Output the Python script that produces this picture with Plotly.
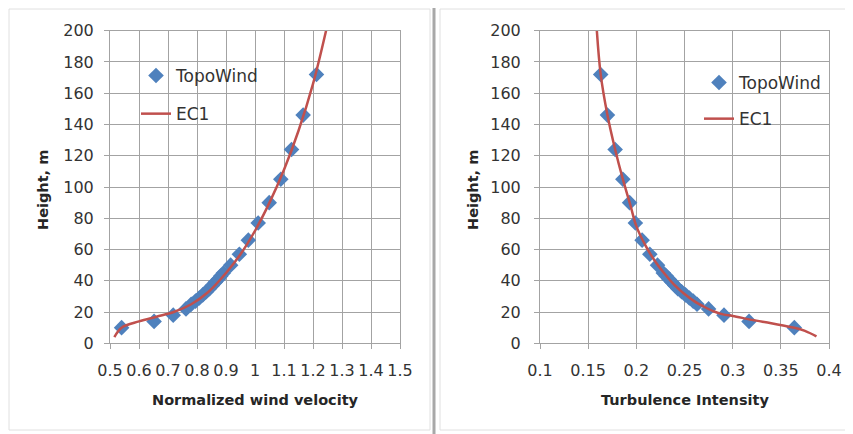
import plotly.graph_objects as go

# ---- data ----
topo_height = [10, 14, 18, 22, 25, 27, 29, 31, 33, 35, 37, 39, 41, 43, 45, 50, 57, 66, 77, 90, 105, 124, 146, 172]
topo_velocity = [0.540, 0.652, 0.718, 0.762, 0.780, 0.795, 0.808, 0.820, 0.832, 0.843, 0.853, 0.863, 0.873, 0.882, 0.891,
                 0.916, 0.946, 0.977, 1.011, 1.049, 1.089, 1.126, 1.166, 1.212]
topo_ti = [0.364, 0.317, 0.291, 0.275, 0.263, 0.259, 0.255, 0.251, 0.247, 0.243, 0.240, 0.237, 0.234, 0.231, 0.228,
           0.222, 0.214, 0.206, 0.199, 0.193, 0.186, 0.178, 0.170, 0.163]

ec1_v_height = [4, 10, 14, 17, 20, 25, 33, 45, 57, 72, 90, 111, 136, 166, 200]
ec1_velocity = [0.515, 0.540, 0.600, 0.660, 0.720, 0.780, 0.840, 0.900, 0.950, 1.000, 1.050, 1.100, 1.150, 1.200, 1.245]

ec1_ti_height = [200, 172, 146, 124, 105, 88, 75, 62, 52, 44, 37, 31.5, 27, 23.5, 20.5, 18.5, 17.5, 15, 12.8, 10, 8, 4.5]
ec1_ti = [0.159, 0.163, 0.170, 0.178, 0.186, 0.194, 0.200, 0.210, 0.220, 0.230, 0.240, 0.250, 0.260, 0.270, 0.280,
          0.290, 0.300, 0.320, 0.340, 0.364, 0.375, 0.387]

vel_ticks = [0.5, 0.6, 0.7, 0.8, 0.9, 1.0, 1.1, 1.2, 1.3, 1.4, 1.5]
vel_ticktext = ["0.5", "0.6", "0.7", "0.8", "0.9", "1", "1.1", "1.2", "1.3", "1.4", "1.5"]
ti_ticks = [0.1, 0.15, 0.2, 0.25, 0.3, 0.35, 0.4]
ti_ticktext = ["0.1", "0.15", "0.2", "0.25", "0.3", "0.35", "0.4"]
h_ticks = [0, 20, 40, 60, 80, 100, 120, 140, 160, 180, 200]

BLUE = "#4f81bd"
RED = "#c0504d"
GRID = "#a3a3a3"
TXT = "#333333"
FONT = "DejaVu Sans"

# page has an 8px body margin: the figure occupies (8..853, 8..434)
OFF = 8
W, H = 853 - OFF, 434 - OFF

fig = go.Figure()

fig.add_trace(go.Scatter(x=topo_velocity, y=topo_height, mode="markers", name="TopoWind",
                         marker=dict(symbol="diamond", size=12, color=BLUE),
                         xaxis="x", yaxis="y", legend="legend", legendgroup="a"))
fig.add_trace(go.Scatter(x=ec1_velocity, y=ec1_v_height, mode="lines", name="EC1",
                         line=dict(color=RED, width=2.5, shape="spline"),
                         xaxis="x", yaxis="y", legend="legend", legendgroup="b"))
fig.add_trace(go.Scatter(x=topo_ti, y=topo_height, mode="markers", name="TopoWind",
                         marker=dict(symbol="diamond", size=12, color=BLUE),
                         xaxis="x2", yaxis="y2", legend="legend2", legendgroup="c"))
fig.add_trace(go.Scatter(x=ec1_ti, y=ec1_ti_height, mode="lines", name="EC1",
                         line=dict(color=RED, width=2.5, shape="spline"),
                         xaxis="x2", yaxis="y2", legend="legend2", legendgroup="d"))


def px_x(p):
    return (p - OFF) / W


def px_y(p):
    return 1 - (p - OFF) / H


ydom = [px_y(343.3), px_y(30.7)]

axis_common = dict(showgrid=True, gridcolor=GRID, gridwidth=1, zeroline=False,
                   showline=True, linecolor=GRID, linewidth=1, mirror=True,
                   ticks="outside", ticklen=5, tickcolor=GRID, automargin=False,
                   tickfont=dict(family=FONT, size=16, color=TXT))

fig.update_layout(
    width=W, height=H,
    margin=dict(l=0, r=0, t=0, b=0, pad=0, autoexpand=False),
    paper_bgcolor="white", plot_bgcolor="white",
    showlegend=True,
    xaxis=dict(domain=[px_x(110), px_x(400)], range=[0.5, 1.5], tickvals=vel_ticks, ticktext=vel_ticktext,
               anchor="y", ticklabelstandoff=7, **axis_common),
    yaxis=dict(domain=ydom, range=[0, 200], tickvals=h_ticks, anchor="x", ticklabelstandoff=7, **axis_common),
    xaxis2=dict(domain=[px_x(540), px_x(829)], range=[0.1, 0.4], tickvals=ti_ticks, ticktext=ti_ticktext,
                anchor="y2", ticklabelstandoff=7, **axis_common),
    yaxis2=dict(domain=ydom, range=[0, 200], tickvals=h_ticks, anchor="x2", ticklabelstandoff=10, **axis_common),
    legend=dict(x=px_x(136), y=px_y(58), xanchor="left", yanchor="top", bgcolor="rgba(255,255,255,0)",
                font=dict(family=FONT, size=17, color=TXT), traceorder="grouped", tracegroupgap=13),
    legend2=dict(x=px_x(699), y=px_y(65), xanchor="left", yanchor="top", bgcolor="rgba(255,255,255,0)",
                 font=dict(family=FONT, size=17, color=TXT), traceorder="grouped", tracegroupgap=11),
)

title_font = dict(family=FONT, size=14.5, color="#262626")
fig.add_annotation(text="<b>Normalized wind velocity</b>", x=px_x(255), y=px_y(400), xref="paper", yref="paper",
                   showarrow=False, font=title_font, xanchor="center", yanchor="middle")
fig.add_annotation(text="<b>Turbulence Intensity</b>", x=px_x(685), y=px_y(400), xref="paper", yref="paper",
                   showarrow=False, font=title_font, xanchor="center", yanchor="middle")
fig.add_annotation(text="<b>Height, m</b>", x=px_x(43), y=px_y(190), xref="paper", yref="paper",
                   showarrow=False, font=title_font, textangle=-90, xanchor="center", yanchor="middle")
fig.add_annotation(text="<b>Height, m</b>", x=px_x(473), y=px_y(190), xref="paper", yref="paper",
                   showarrow=False, font=title_font, textangle=-90, xanchor="center", yanchor="middle")

# chart frames and separator
fig.add_shape(type="rect", xref="paper", yref="paper", x0=px_x(9), x1=px_x(430), y0=px_y(430), y1=px_y(9),
              line=dict(color="#e0e0e0", width=1))
fig.add_shape(type="rect", xref="paper", yref="paper", x0=px_x(440), x1=px_x(849), y0=px_y(430), y1=px_y(9),
              line=dict(color="#e0e0e0", width=1))
fig.add_shape(type="line", xref="paper", yref="paper", x0=px_x(434), x1=px_x(434), y0=px_y(434), y1=px_y(8),
              line=dict(color="#a8a8a8", width=3))

fig.write_html("out.html")
